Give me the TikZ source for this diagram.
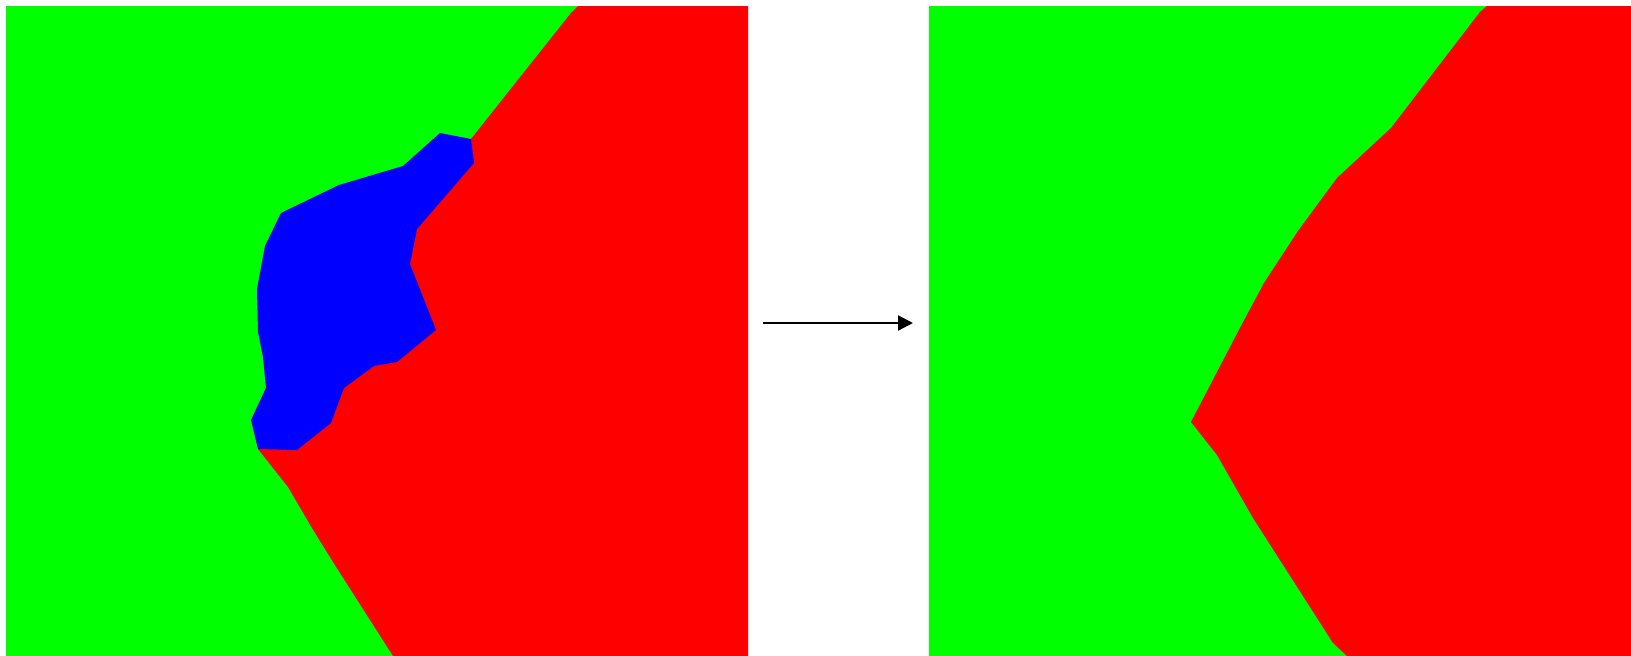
\documentclass[tikz,border=0pt]{standalone}
\usetikzlibrary{arrows.meta}
\definecolor{pg}{RGB}{0,255,0}
\definecolor{pr}{RGB}{255,0,0}
\definecolor{pb}{RGB}{0,0,255}
\begin{document}
\begin{tikzpicture}[x=1pt,y=-1pt,
  conn/.style={line width=2.2pt, -{Triangle[length=15pt,width=15pt]}}]
\useasboundingbox (0,0) rectangle (1631,656);
% left panel
\fill[pg] (6,6) rectangle (748,656);
\fill[pr] (578,6) -- (748,6) -- (748,656) -- (393,656) -- (333,562) -- (312,528) -- (288,487) -- (258,449) -- (471,139) -- (571,13) -- cycle;
\fill[pb] (440,133) -- (471,139) -- (474,163) -- (417,229) -- (410,264) -- (436,330) -- (397,362) -- (374,366) -- (344,388) -- (331,423) -- (297,450) -- (258,449) -- (251,420) -- (266,388) -- (263,357) -- (258,332) -- (257,289) -- (265,246) -- (281,213) -- (339,185) -- (403,166) -- cycle;
% right panel
\fill[pg] (929,6) rectangle (1631,656);
\fill[pr] (1487,6) -- (1631,6) -- (1631,656) -- (1347,656) -- (1333,643) -- (1253,518) -- (1217,455) -- (1191,422) -- (1241,326) -- (1264,283) -- (1298,231) -- (1337,178) -- (1391,128) -- (1480,12) -- cycle;
% arrow
\coordinate (a) at (763,323);
\coordinate (b) at (913,323);
\draw[conn] (a) -- (b);
\end{tikzpicture}
\end{document}
